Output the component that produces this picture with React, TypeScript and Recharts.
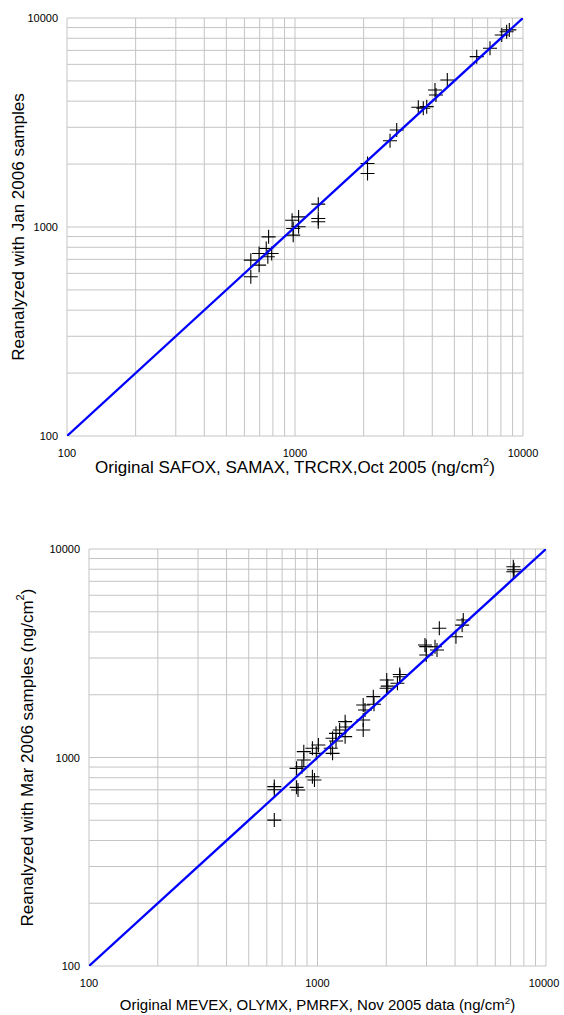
import React from 'react';
import { ScatterChart, Scatter, XAxis, YAxis, ReferenceLine, Label } from 'recharts';

const gridValues = [100, 200, 300, 400, 500, 600, 700, 800, 900, 1000, 2000, 3000, 4000, 5000, 6000, 7000, 8000, 9000, 10000];
const tickValues = [100, 1000, 10000];
const identityLine = [100, 10000];

const janOriginal = [640, 640, 696, 696, 748, 760, 766, 790, 971, 982, 982, 1037, 1037, 1265, 1265, 1265, 2080, 2080, 2611, 2793, 3474, 3653, 3782, 4111, 4153, 4656, 6266, 7166, 8070, 8476, 8710];
const janReanalyzed = [578, 694, 747, 657, 789, 720, 897, 747, 1078, 984, 914, 1118, 1002, 1286, 1098, 1060, 2013, 1803, 2588, 2911, 3738, 3698, 3765, 4527, 4281, 5047, 6531, 7164, 8291, 8597, 8770];

const marOriginal = [647, 647, 647, 810, 822, 810, 855, 871, 871, 950, 950, 988, 970, 1009, 1143, 1164, 1164, 1205, 1205, 1250, 1321, 1321, 1330, 1585, 1585, 1585, 1614, 1767, 1755, 2005, 2009, 2030, 2296, 2290, 2238, 2953, 2992, 2992, 3268, 3334, 3413, 4036, 4295, 4345, 7194, 7194, 7250];
const marReanalyzed = [501, 725, 700, 719, 698, 887, 903, 973, 1067, 809, 1107, 1047, 780, 1148, 1107, 1047, 1236, 1306, 1200, 1355, 1486, 1259, 1400, 1355, 1513, 1786, 1690, 1800, 1958, 2147, 2353, 2200, 2441, 2500, 2270, 3465, 3403, 3102, 3400, 3279, 4168, 3797, 4315, 4566, 8226, 7780, 7950];

const FONT = '"Liberation Sans", Arial, sans-serif';

const toPoints = (xs: number[], ys: number[]) => xs.map((x, i) => ({ x, y: ys[i] }));
const diagData = identityLine.map((v) => ({ x: v, y: v }));

const Cross = (props: any) => {
  const { cx, cy } = props;
  if (cx == null || cy == null) return null;
  const h = 7;
  return (
    <path
      d={`M${cx - h},${cy}H${cx + h}M${cx},${cy - h}V${cy + h}`}
      stroke="#000"
      strokeWidth={1.1}
      fill="none"
    />
  );
};

const NoShape = () => null;

const XTick = (props: any) => {
  const { x, y, payload } = props;
  return (
    <text x={x} y={y + 21} textAnchor="middle" fontSize={11} fontFamily={FONT} fill="#000">
      {payload.value}
    </text>
  );
};

const YTick = (props: any) => {
  const { x, y, payload } = props;
  return (
    <text x={x - 9} y={y + 4} textAnchor="end" fontSize={11} fontFamily={FONT} fill="#000">
      {payload.value}
    </text>
  );
};

const Unit = ({ size }: { size: number }) => (
  <>
    <tspan>(ng/cm</tspan>
    <tspan dy={-size * 0.4} fontSize={size * 0.65}>2</tspan>
    <tspan dy={size * 0.4}>)</tspan>
  </>
);

type PanelProps = {
  data: { x: number; y: number }[];
  width: number;
  height: number;
  margin: { top: number; right: number; bottom: number; left: number };
  yAxisWidth: number;
  xAxisHeight: number;
  xTitle: string;
  yTitle: string;
  xUnit: boolean;
  yUnit: boolean;
  xTitleSize: number;
  yTitleSize: number;
  xTitleDy: number;
  yTitleX: number;
};

const Panel = (p: PanelProps) => {
  const plotLeft = p.margin.left + p.yAxisWidth;
  const plotRight = p.width - p.margin.right;
  const plotTop = p.margin.top;
  const plotBottom = p.height - p.margin.bottom - p.xAxisHeight;
  const midX = (plotLeft + plotRight) / 2;
  const midY = (plotTop + plotBottom) / 2;
  return (
    <ScatterChart width={p.width} height={p.height} margin={p.margin}>
      <XAxis
        type="number"
        dataKey="x"
        scale="log"
        domain={[100, 10000]}
        ticks={tickValues}
        allowDataOverflow
        axisLine={false}
        tickLine={false}
        tickSize={0}
        tickMargin={0}
        height={p.xAxisHeight}
        tick={<XTick />}
      >
        <Label
          content={() => (
            <text
              x={midX}
              y={plotBottom + p.xTitleDy}
              textAnchor="middle"
              fontSize={p.xTitleSize}
              fontFamily={FONT}
              fill="#000"
            >
              <tspan>{p.xTitle}</tspan>
              {p.xUnit ? <Unit size={p.xTitleSize} /> : null}
            </text>
          )}
        />
      </XAxis>
      <YAxis
        type="number"
        dataKey="y"
        scale="log"
        domain={[100, 10000]}
        ticks={tickValues}
        allowDataOverflow
        axisLine={false}
        tickLine={false}
        tickSize={0}
        tickMargin={0}
        width={p.yAxisWidth}
        tick={<YTick />}
      >
        <Label
          content={() => (
            <text
              x={p.yTitleX}
              y={midY}
              transform={`rotate(-90, ${p.yTitleX}, ${midY})`}
              textAnchor="middle"
              dominantBaseline="central"
              fontSize={p.yTitleSize}
              fontFamily={FONT}
              fill="#000"
            >
              <tspan>{p.yTitle}</tspan>
              {p.yUnit ? <Unit size={p.yTitleSize} /> : null}
            </text>
          )}
        />
      </YAxis>
      {gridValues.map((v) => (
        <ReferenceLine key={'gx' + v} x={v} stroke="#c4c4c4" strokeWidth={1} />
      ))}
      {gridValues.map((v) => (
        <ReferenceLine key={'gy' + v} y={v} stroke="#c4c4c4" strokeWidth={1} />
      ))}
      <Scatter data={p.data} shape={<Cross />} isAnimationActive={false} />
      <Scatter
        data={diagData}
        shape={<NoShape />}
        line={{ stroke: '#0000ff', strokeWidth: 2.3 }}
        isAnimationActive={false}
      />
    </ScatterChart>
  );
};

export default function App() {
  return (
    <div style={{ position: 'absolute', left: 0, top: 0, width: 564, height: 1015, background: '#fff' }}>
      <div style={{ position: 'absolute', left: 0, top: 0 }}>
        <Panel
          data={toPoints(janOriginal, janReanalyzed)}
          width={564}
          height={490}
          margin={{ top: 18, right: 41, bottom: 0, left: 0 }}
          yAxisWidth={67}
          xAxisHeight={54}
          xTitle="Original SAFOX, SAMAX, TRCRX,Oct 2005 "
          yTitle="Reanalyzed with Jan 2006 samples"
          xUnit={true}
          yUnit={false}
          xTitleSize={17}
          yTitleSize={17}
          xTitleDy={37}
          yTitleX={18}
        />
      </div>
      <div style={{ position: 'absolute', left: 0, top: 500 }}>
        <Panel
          data={toPoints(marOriginal, marReanalyzed)}
          width={564}
          height={515}
          margin={{ top: 49, right: 18, bottom: 0, left: 0 }}
          yAxisWidth={89}
          xAxisHeight={49}
          xTitle="Original MEVEX, OLYMX, PMRFX, Nov 2005 data "
          yTitle="Reanalyzed with Mar 2006 samples "
          xUnit={true}
          yUnit={true}
          xTitleSize={15}
          yTitleSize={17}
          xTitleDy={44}
          yTitleX={27}
        />
      </div>
    </div>
  );
}
